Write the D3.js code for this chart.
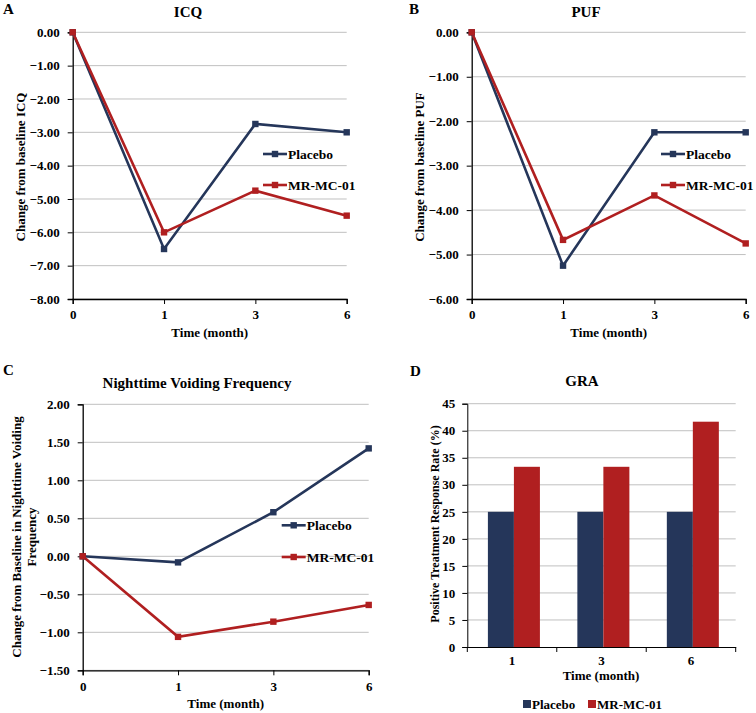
<!DOCTYPE html>
<html><head><meta charset="utf-8">
<script src="https://cdn.jsdelivr.net/npm/d3@7"></script>
<style>body{margin:0;background:#fff}svg{display:block}text{font-family:"Liberation Serif","Times New Roman",Times,"DejaVu Serif",serif;font-weight:bold}</style>
</head><body>
<svg id="c" width="756" height="713"></svg>
<script>
const months = ["0","1","3","6"];
const icqPlacebo = [0, -6.5, -2.75, -3.0];
const icqMR = [0, -6.0, -4.75, -5.5];
const pufPlacebo = [0, -5.25, -2.25, -2.25];
const pufMR = [0, -4.67, -3.67, -4.75];
const nvfPlacebo = [0, -0.08, 0.58, 1.42];
const nvfMR = [0, -1.06, -0.86, -0.64];
const graMonths = ["1","3","6"];
const graPlacebo = [25, 25, 25];
const graMR = [33.33, 33.33, 41.67];
const seriesNames = ["Placebo", "MR-MC-01"];
const colors = ["#25365a", "#b01f20"];

const FONT = '"Liberation Serif","Times New Roman",Times,"DejaVu Serif",serif';
const svg = d3.select("#c");

function styleAxisText(sel) {
  sel.attr("font-size", 13).attr("fill", "#000").style("font-family", FONT).style("font-weight", "bold");
}

function linePanel(o) {
  const g = svg.append("g");
  const x = d3.scalePoint().domain(months).range([o.x0, o.x1]);
  const y = d3.scaleLinear().domain(o.domain).range([o.y1, o.y0]);
  g.selectAll("line.grid").data(o.ticks).join("line")
    .attr("x1", o.x0).attr("x2", o.x1)
    .attr("y1", d => y(d)).attr("y2", d => y(d))
    .attr("stroke", "#c0c0c0").attr("stroke-width", 1);
  const ya = g.append("g").attr("transform", `translate(${o.x0},0)`)
    .call(d3.axisLeft(y).tickValues(o.ticks).tickFormat(d3.format(".2f")).tickSize(5).tickPadding(8));
  ya.select(".domain").attr("stroke", "#000").attr("stroke-width", 1.3);
  ya.selectAll(".tick line").attr("stroke", "#000");
  styleAxisText(ya.selectAll("text"));
  const xa = g.append("g").attr("transform", `translate(0,${o.y1})`)
    .call(d3.axisBottom(x).tickSize(5).tickPadding(6));
  xa.select(".domain").attr("stroke", "#000").attr("stroke-width", 1.3);
  xa.selectAll(".tick line").attr("stroke", "#000");
  styleAxisText(xa.selectAll("text"));
  const ln = d3.line().x((d, i) => x(months[i])).y(d => y(d));
  [o.p, o.m].forEach((vals, si) => {
    g.append("path").attr("d", ln(vals)).attr("fill", "none").attr("stroke", colors[si]).attr("stroke-width", 2.6);
  });
  [o.p, o.m].forEach((vals, si) => {
    g.selectAll(null).data(vals).join("rect")
      .attr("x", (d, i) => x(months[i]) - 3.2).attr("y", d => y(d) - 3.2)
      .attr("width", 6.4).attr("height", 6.4).attr("fill", colors[si]);
  });
  o.leg.forEach((ly, si) => {
    g.append("line").attr("x1", o.lx).attr("x2", o.lx + 24).attr("y1", ly).attr("y2", ly)
      .attr("stroke", colors[si]).attr("stroke-width", 2.6);
    g.append("rect").attr("x", o.lx + 12 - 3.2).attr("y", ly - 3.2).attr("width", 6.4).attr("height", 6.4).attr("fill", colors[si]);
    g.append("text").attr("x", o.lx + 25).attr("y", ly).attr("dy", "0.35em").attr("font-size", 13.5).text(seriesNames[si]);
  });
  g.append("text").attr("x", o.tx).attr("y", o.ty).attr("text-anchor", "middle").attr("font-size", 15).text(o.title);
  g.append("text").attr("x", o.lettX).attr("y", o.lettY).attr("font-size", 15).text(o.letter);
  g.append("text").attr("x", (o.x0 + o.x1) / 2).attr("y", o.xlY).attr("text-anchor", "middle").attr("font-size", 13).text("Time (month)");
  const yl = g.append("text").attr("transform", `translate(${o.ylX},${o.ylY}) rotate(-90)`).attr("text-anchor", "middle").attr("font-size", 13);
  o.ylab.forEach((t, i) => yl.append("tspan").attr("x", 0).attr("dy", i === 0 ? 0 : 15).text(t));
}

linePanel({x0: 72.7, x1: 346.7, y0: 32.3, y1: 299, domain: [-8, 0], ticks: d3.range(-8, 0.5, 1),
  p: icqPlacebo, m: icqMR, leg: [154, 185], lx: 263, title: "ICQ", tx: 188, ty: 17, letter: "A", lettX: 3, lettY: 14,
  xlY: 337, ylX: 25, ylY: 167, ylab: ["Change from baseline ICQ"]});
linePanel({x0: 471.7, x1: 745.7, y0: 32.3, y1: 299, domain: [-6, 0], ticks: d3.range(-6, 0.5, 1),
  p: pufPlacebo, m: pufMR, leg: [154, 185], lx: 661, title: "PUF", tx: 586, ty: 17, letter: "B", lettX: 409, lettY: 14,
  xlY: 337, ylX: 424, ylY: 167, ylab: ["Change from baseline PUF"]});
linePanel({x0: 82.7, x1: 368.7, y0: 404.3, y1: 670.3, domain: [-1.5, 2], ticks: d3.range(-1.5, 2.01, 0.5),
  p: nvfPlacebo, m: nvfMR, leg: [525.3, 557], lx: 281.7, title: "Nighttime Voiding Frequency", tx: 197, ty: 388, letter: "C", lettX: 3, lettY: 375,
  xlY: 708, ylX: 21, ylY: 537, ylab: ["Change from Baseline in Nighttime Voiding", "Frequency"]});

(function () {
  const g = svg.append("g");
  const x0 = 467.3, x1 = 735.7, y0 = 403.7, y1 = 647;
  const x = d3.scaleBand().domain(graMonths).range([x0, x1]).paddingInner(0).paddingOuter(0);
  const xs = d3.scaleBand().domain(seriesNames).range([0, x.bandwidth()]).paddingInner(0).paddingOuter(0.72).align(0.55);
  const y = d3.scaleLinear().domain([0, 45]).range([y1, y0]);
  const ticks = d3.range(0, 46, 5);
  g.selectAll("line.grid").data(ticks.slice(1)).join("line")
    .attr("x1", x0).attr("x2", x1).attr("y1", d => y(d)).attr("y2", d => y(d))
    .attr("stroke", "#c0c0c0");
  [graPlacebo, graMR].forEach((vals, si) => {
    g.selectAll(null).data(vals).join("rect")
      .attr("x", (d, i) => x(graMonths[i]) + xs(seriesNames[si]))
      .attr("y", d => y(d)).attr("width", xs.bandwidth()).attr("height", d => y1 - y(d))
      .attr("fill", colors[si]);
  });
  const ya = g.append("g").attr("transform", `translate(${x0},0)`)
    .call(d3.axisLeft(y).tickValues(ticks).tickSize(5).tickPadding(7));
  ya.select(".domain").attr("stroke", "#000");
  ya.selectAll(".tick line").attr("stroke", "#000");
  styleAxisText(ya.selectAll("text"));
  const xa = g.append("g").attr("transform", `translate(0,${y1})`)
    .call(d3.axisBottom(x).tickSize(0).tickPadding(9));
  xa.select(".domain").attr("stroke", "#000");
  styleAxisText(xa.selectAll("text"));
  g.selectAll(null).data([x0, ...graMonths.map(m => x(m) + x.bandwidth())]).join("line")
    .attr("x1", d => d).attr("x2", d => d).attr("y1", y1).attr("y2", y1 + 5).attr("stroke", "#000");
  g.append("text").attr("x", 582).attr("y", 386).attr("text-anchor", "middle").attr("font-size", 15).text("GRA");
  g.append("text").attr("x", 410).attr("y", 376).attr("font-size", 15).text("D");
  g.append("text").attr("x", 601).attr("y", 680).attr("text-anchor", "middle").attr("font-size", 13).text("Time (month)");
  g.append("text").attr("transform", `translate(439,524) rotate(-90)`).attr("text-anchor", "middle").attr("font-size", 12).text("Positive Treatment Response Rate (%)");
  const lxs = [523, 588];
  seriesNames.forEach((n, si) => {
    g.append("rect").attr("x", lxs[si]).attr("y", 700).attr("width", 8).attr("height", 8).attr("fill", colors[si]);
    g.append("text").attr("x", lxs[si] + 9).attr("y", 704).attr("dy", "0.35em").attr("font-size", 13).text(n);
  });
})();
</script>
</body></html>
